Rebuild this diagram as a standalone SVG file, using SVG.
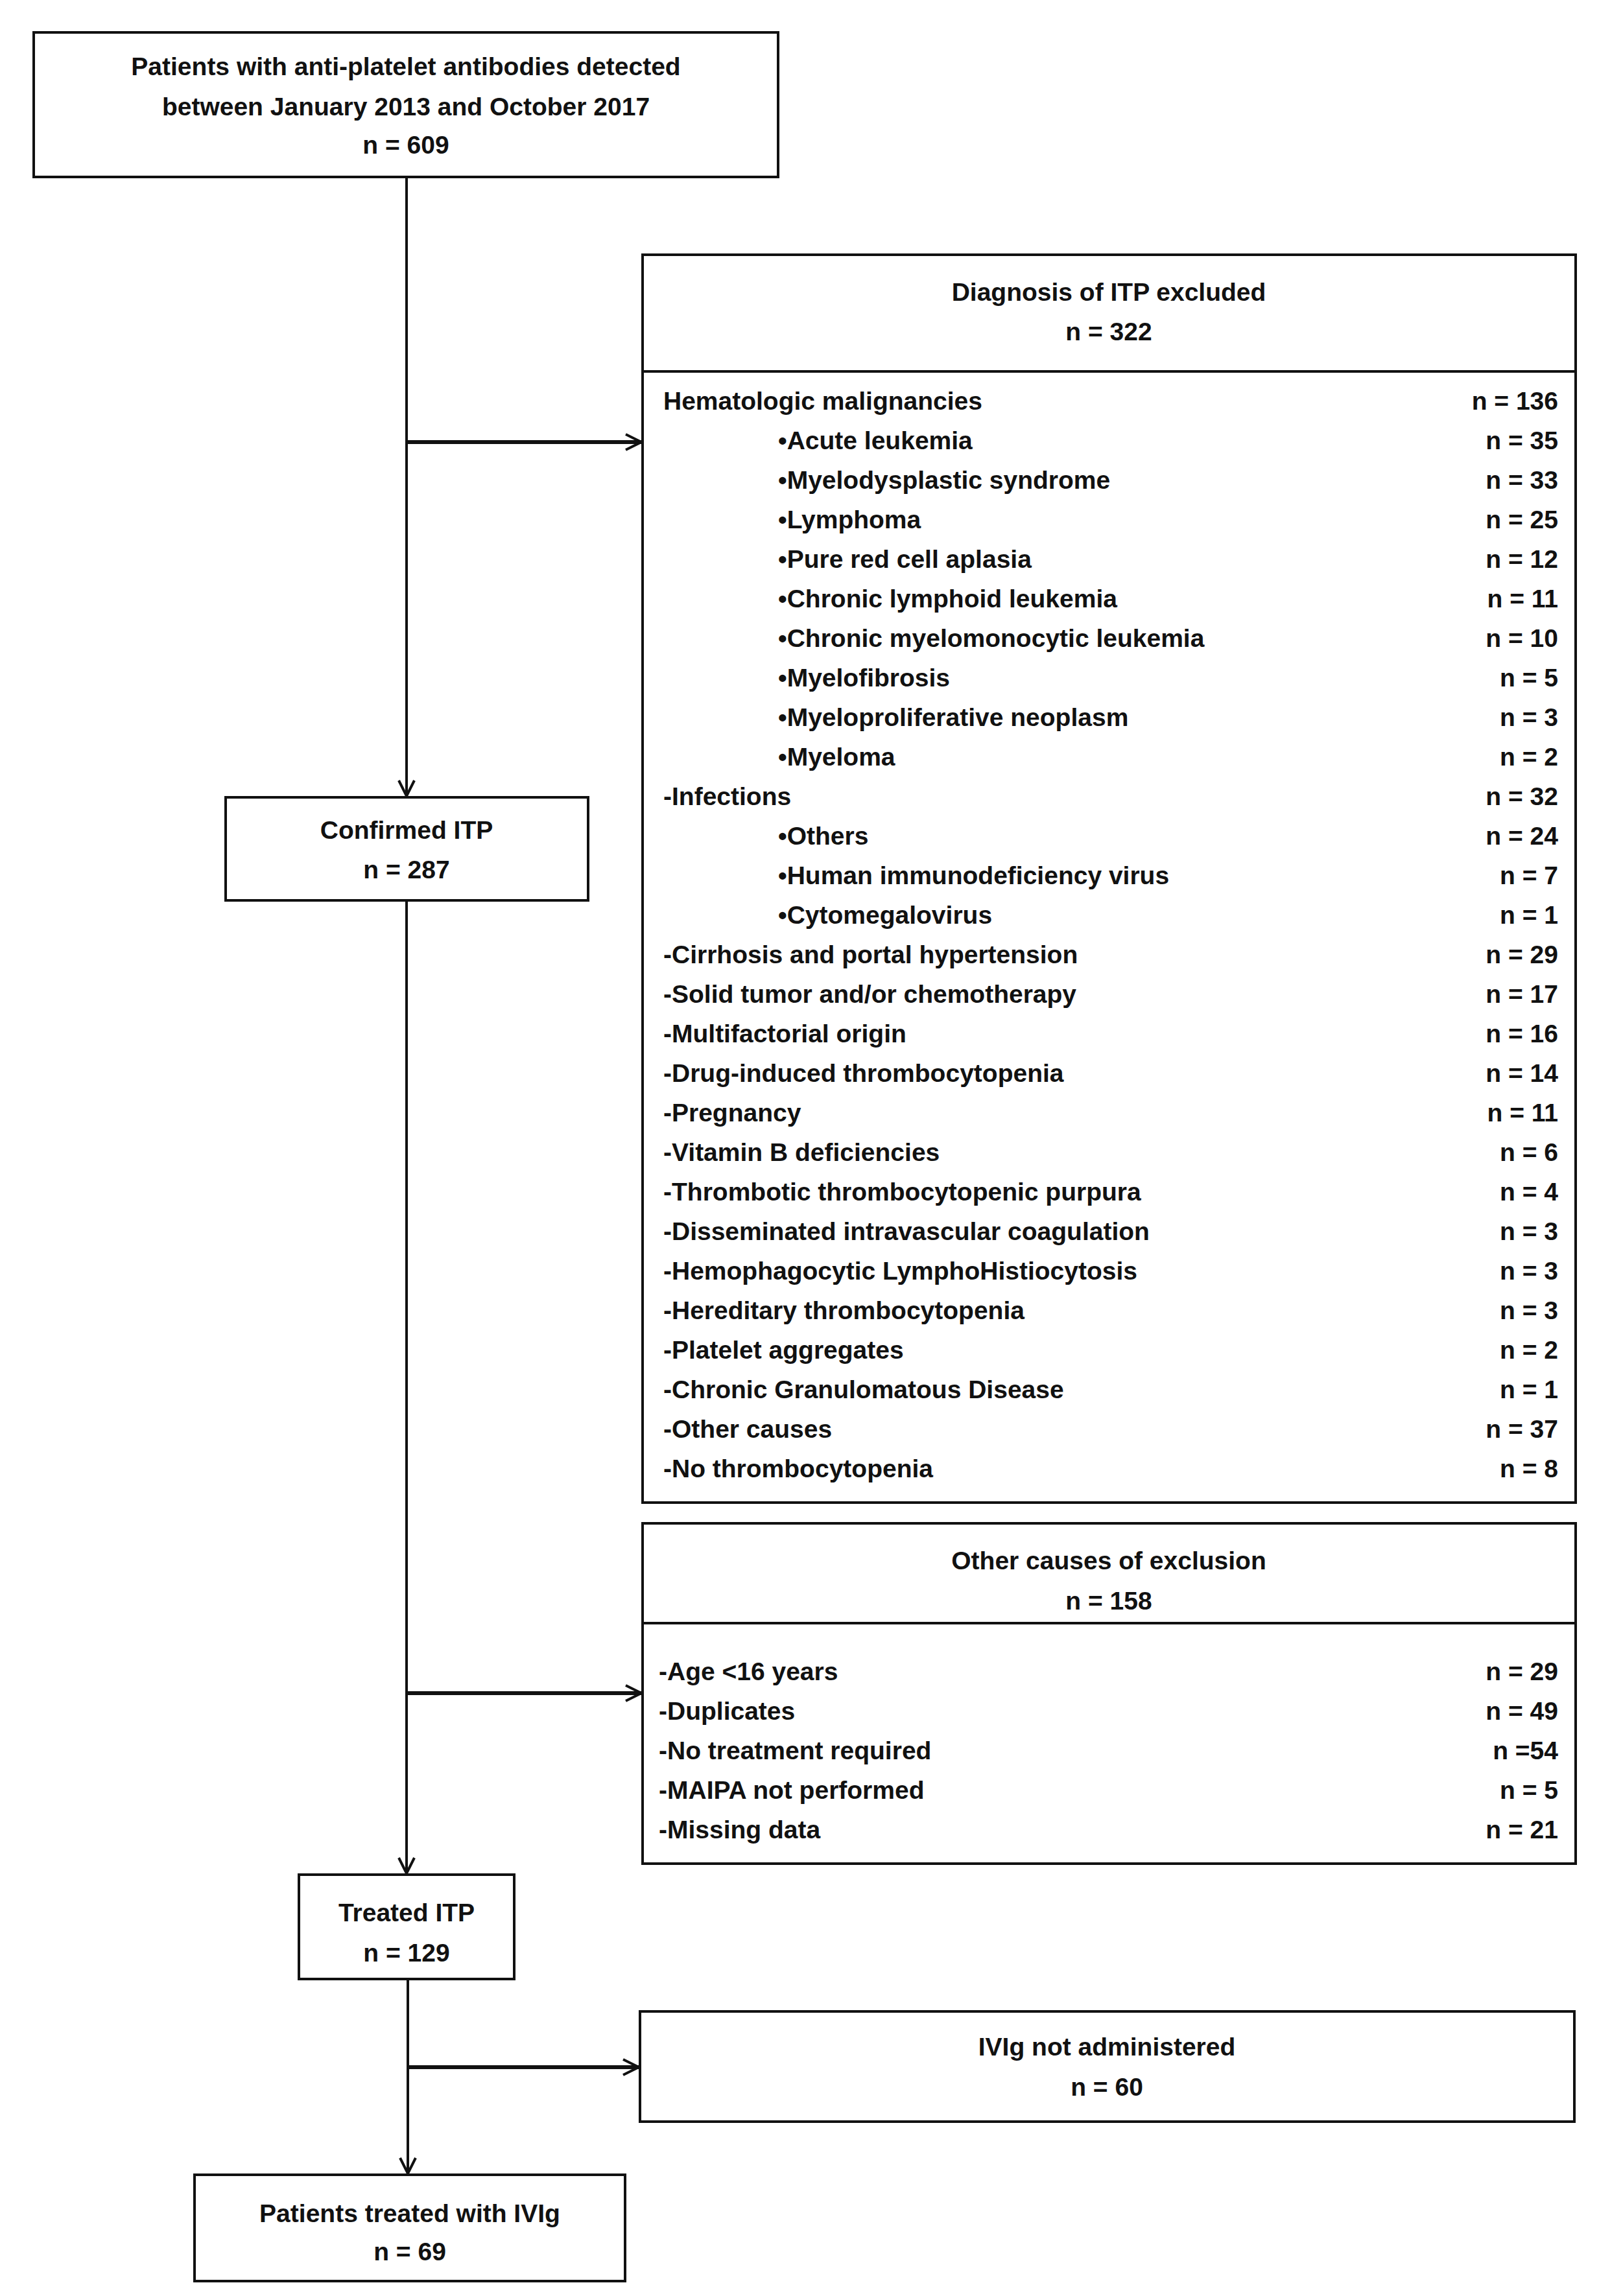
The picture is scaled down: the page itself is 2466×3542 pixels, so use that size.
<svg xmlns="http://www.w3.org/2000/svg" width="2466" height="3542" viewBox="0 0 2466 3542">
<style>
text{font-family:"Liberation Sans",Arial,sans-serif;font-weight:bold;font-size:39px;fill:#111;dominant-baseline:central}
.c{text-anchor:middle}.r{text-anchor:end}
.b{fill:none;stroke:#111;stroke-width:4}
.ln{fill:none;stroke:#111;stroke-width:4}
.h{stroke-width:6}
</style>
<defs><marker id="a" viewBox="0 0 30 30" refX="27" refY="15" markerWidth="30" markerHeight="30" markerUnits="userSpaceOnUse" orient="auto"><path d="M3 3L27 15L3 27" fill="none" stroke="#111" stroke-width="4"/></marker></defs>
<rect width="2466" height="3542" fill="#fff"/>
<g id="connectors">
<path class="ln" d="M627 273V1228" marker-end="url(#a)"/>
<path class="ln h" d="M627 682H989" marker-end="url(#a)"/>
<path class="ln" d="M627 1389V2890" marker-end="url(#a)"/>
<path class="ln h" d="M627 2612H989" marker-end="url(#a)"/>
<path class="ln" d="M629 3053V3353" marker-end="url(#a)"/>
<path class="ln h" d="M629 3189H985" marker-end="url(#a)"/>
</g>
<g id="n1"><rect class="b" x="52" y="50" width="1148" height="223"/>
<text class="c" x="626" y="102">Patients  with anti-platelet antibodies detected</text>
<text class="c" x="626" y="164">between January 2013 and October 2017</text>
<text class="c" x="626" y="223">n = 609</text></g>
<g id="n2"><rect class="b" x="991" y="393" width="1439" height="1925"/>
<line class="ln" x1="991" y1="573" x2="2430" y2="573"/>
<text class="c" x="1710" y="450">Diagnosis of ITP excluded</text>
<text class="c" x="1710" y="511">n = 322</text>
<text x="1023" y="618">Hematologic malignancies</text><text class="r" x="2403" y="618">n = 136</text>
<text x="1200" y="679">•Acute leukemia</text><text class="r" x="2403" y="679">n = 35</text>
<text x="1200" y="740">•Myelodysplastic syndrome</text><text class="r" x="2403" y="740">n = 33</text>
<text x="1200" y="801">•Lymphoma</text><text class="r" x="2403" y="801">n = 25</text>
<text x="1200" y="862">•Pure red cell aplasia</text><text class="r" x="2403" y="862">n = 12</text>
<text x="1200" y="923">•Chronic lymphoid leukemia</text><text class="r" x="2403" y="923">n = 11</text>
<text x="1200" y="984">•Chronic myelomonocytic leukemia</text><text class="r" x="2403" y="984">n = 10</text>
<text x="1200" y="1045">•Myelofibrosis</text><text class="r" x="2403" y="1045">n = 5</text>
<text x="1200" y="1106">•Myeloproliferative neoplasm</text><text class="r" x="2403" y="1106">n = 3</text>
<text x="1200" y="1167">•Myeloma</text><text class="r" x="2403" y="1167">n = 2</text>
<text x="1023" y="1228">-Infections</text><text class="r" x="2403" y="1228">n = 32</text>
<text x="1200" y="1289">•Others</text><text class="r" x="2403" y="1289">n = 24</text>
<text x="1200" y="1350">•Human immunodeficiency virus</text><text class="r" x="2403" y="1350">n = 7</text>
<text x="1200" y="1411">•Cytomegalovirus</text><text class="r" x="2403" y="1411">n = 1</text>
<text x="1023" y="1472">-Cirrhosis and portal hypertension</text><text class="r" x="2403" y="1472">n = 29</text>
<text x="1023" y="1533">-Solid tumor and/or chemotherapy</text><text class="r" x="2403" y="1533">n = 17</text>
<text x="1023" y="1594">-Multifactorial origin</text><text class="r" x="2403" y="1594">n = 16</text>
<text x="1023" y="1655">-Drug-induced thrombocytopenia</text><text class="r" x="2403" y="1655">n = 14</text>
<text x="1023" y="1716">-Pregnancy</text><text class="r" x="2403" y="1716">n = 11</text>
<text x="1023" y="1777">-Vitamin B deficiencies</text><text class="r" x="2403" y="1777">n = 6</text>
<text x="1023" y="1838">-Thrombotic thrombocytopenic purpura</text><text class="r" x="2403" y="1838">n = 4</text>
<text x="1023" y="1899">-Disseminated intravascular coagulation</text><text class="r" x="2403" y="1899">n = 3</text>
<text x="1023" y="1960">-Hemophagocytic LymphoHistiocytosis</text><text class="r" x="2403" y="1960">n = 3</text>
<text x="1023" y="2021">-Hereditary thrombocytopenia</text><text class="r" x="2403" y="2021">n = 3</text>
<text x="1023" y="2082">-Platelet aggregates</text><text class="r" x="2403" y="2082">n = 2</text>
<text x="1023" y="2143">-Chronic Granulomatous Disease</text><text class="r" x="2403" y="2143">n = 1</text>
<text x="1023" y="2204">-Other causes</text><text class="r" x="2403" y="2204">n = 37</text>
<text x="1023" y="2265">-No thrombocytopenia</text><text class="r" x="2403" y="2265">n = 8</text>
</g>
<g id="n3"><rect class="b" x="348" y="1230" width="559" height="159"/>
<text class="c" x="627" y="1280">Confirmed ITP</text><text class="c" x="627" y="1341">n = 287</text></g>
<g id="n4"><rect class="b" x="991" y="2350" width="1439" height="525"/>
<line class="ln" x1="991" y1="2504" x2="2430" y2="2504"/>
<text class="c" x="1710" y="2407">Other causes of exclusion</text>
<text class="c" x="1710" y="2469">n = 158</text>
<text x="1016" y="2578">-Age &lt;16 years</text><text class="r" x="2403" y="2578">n = 29</text>
<text x="1016" y="2639">-Duplicates</text><text class="r" x="2403" y="2639">n = 49</text>
<text x="1016" y="2700">-No treatment required</text><text class="r" x="2403" y="2700">n =54</text>
<text x="1016" y="2761">-MAIPA not performed</text><text class="r" x="2403" y="2761">n = 5</text>
<text x="1016" y="2822">-Missing data</text><text class="r" x="2403" y="2822">n = 21</text></g>
<g id="n5"><rect class="b" x="461" y="2892" width="332" height="161"/>
<text class="c" x="627" y="2950">Treated ITP</text><text class="c" x="627" y="3012">n = 129</text></g>
<g id="n6"><rect class="b" x="987" y="3103" width="1441" height="170"/>
<text class="c" x="1707" y="3157">IVIg not administered</text><text class="c" x="1707" y="3219">n = 60</text></g>
<g id="n7"><rect class="b" x="300" y="3355" width="664" height="164"/>
<text class="c" x="632" y="3414">Patients treated with IVIg</text><text class="c" x="632" y="3473">n = 69</text></g>
</svg>
